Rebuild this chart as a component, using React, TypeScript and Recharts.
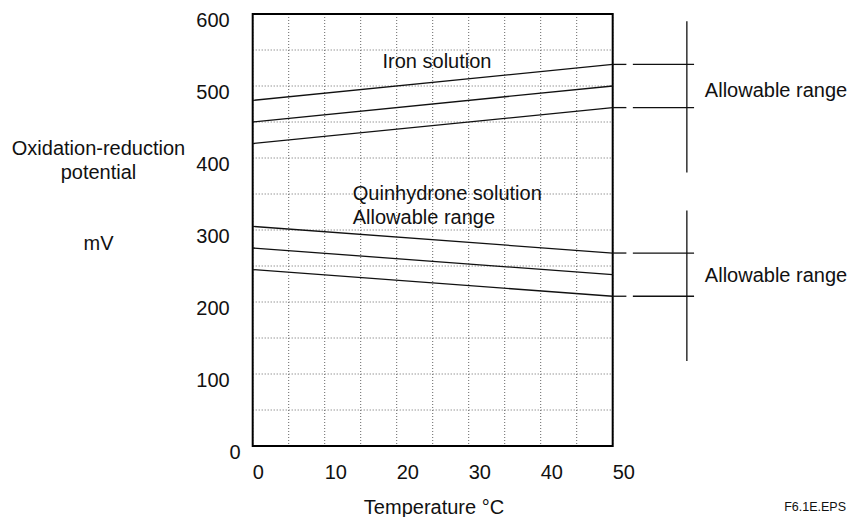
import { LineChart, Line, XAxis, YAxis, CartesianGrid, ReferenceArea, ReferenceLine, ReferenceDot } from 'recharts';

// temperature (°C) and potential (mV)
const temps = [0, 50];
const ironUpper = [480, 530];
const ironMid = [450, 500];
const ironLower = [420, 470];
const quinUpper = [305, 268];
const quinMid = [275, 238];
const quinLower = [245, 208];

const xTicks = [0, 5, 10, 15, 20, 25, 30, 35, 40, 45, 50];
const yTicks = [0, 50, 100, 150, 200, 250, 300, 350, 400, 450, 500, 550, 600];

// annotation positions in data units (leaders / brackets right of the plot)
const leaderShort = [50, 51.9];
const leaderLong = [52.8, 61.3];
const bracketX = 60.3;
const ironBracket = [380, 590];
const quinBracket = [118, 327];

const data = temps.map((t, i) => ({
  t,
  iu: ironUpper[i],
  im: ironMid[i],
  il: ironLower[i],
  qu: quinUpper[i],
  qm: quinMid[i],
  ql: quinLower[i],
}));

const FONT = '"Liberation Sans", Arial, Helvetica, sans-serif';
const INK = '#111';

function XTick({ x, y, payload }: any) {
  if (payload.value % 10 !== 0) return <g />;
  return (
    <text x={x} y={y + 32.5} textAnchor="start" fontSize={20} fill={INK} fontFamily={FONT}>
      {payload.value}
    </text>
  );
}

function YTick({ x, y, payload }: any) {
  if (payload.value % 100 !== 0) return <g />;
  return (
    <text x={x} dx={payload.value === 0 ? 11 : 0} y={y + 12.5} textAnchor="end" fontSize={20} fill={INK} fontFamily={FONT}>
      {payload.value}
    </text>
  );
}

const textShape = (label: string, anchor: 'start' | 'middle') => (p: any) => (
  <text x={p.cx} y={p.cy + 7} textAnchor={anchor} fontSize={20} fill={INK} fontFamily={FONT}>
    {label}
  </text>
);

export default function App() {
  const seriesKeys = ['iu', 'im', 'il', 'qu', 'qm', 'ql'];
  const leaderValues = [ironUpper[1], ironLower[1], quinUpper[1], quinLower[1]];

  return (
    <div style={{ position: 'absolute', left: 0, top: 0, width: 847, height: 517, background: '#fff', fontFamily: FONT, color: INK }}>
      <LineChart width={847} height={517} data={data} margin={{ top: 14, right: 234.3, bottom: 41, left: 192.7 }}>
        <CartesianGrid stroke="#666" strokeDasharray="1 2" strokeWidth={1} />
        <XAxis
          dataKey="t"
          type="number"
          domain={[0, 50]}
          ticks={xTicks}
          interval={0}
          height={30}
          axisLine={false}
          tickLine={false}
          tickSize={0}
          tickMargin={0}
          tick={<XTick />}
        />
        <YAxis
          type="number"
          domain={[0, 600]}
          ticks={yTicks}
          interval={0}
          width={60}
          axisLine={false}
          tickLine={false}
          tickSize={0}
          tickMargin={23}
          tick={<YTick />}
        />
        {seriesKeys.map((k) => (
          <Line key={k} type="linear" dataKey={k} stroke={INK} strokeWidth={1.3} dot={false} activeDot={false} isAnimationActive={false} />
        ))}
        <ReferenceArea x1={0} x2={50} y1={0} y2={600} fill="none" stroke="#000" strokeWidth={2} />
        {leaderValues.map((v) => (
          <ReferenceLine
            key={'s' + v}
            segment={[{ x: leaderShort[0], y: v }, { x: leaderShort[1], y: v }]}
            stroke={INK}
            strokeWidth={1.3}
            ifOverflow="visible"
          />
        ))}
        {leaderValues.map((v) => (
          <ReferenceLine
            key={'l' + v}
            segment={[{ x: leaderLong[0], y: v }, { x: leaderLong[1], y: v }]}
            stroke={INK}
            strokeWidth={1.3}
            ifOverflow="visible"
          />
        ))}
        <ReferenceLine
          segment={[{ x: bracketX, y: ironBracket[0] }, { x: bracketX, y: ironBracket[1] }]}
          stroke={INK}
          strokeWidth={1.3}
          ifOverflow="visible"
        />
        <ReferenceLine
          segment={[{ x: bracketX, y: quinBracket[0] }, { x: bracketX, y: quinBracket[1] }]}
          stroke={INK}
          strokeWidth={1.3}
          ifOverflow="visible"
        />
        <ReferenceDot x={25.6} y={534.7} r={0} ifOverflow="visible" shape={textShape('Iron solution', 'middle')} />
        <ReferenceDot x={13.9} y={351.4} r={0} ifOverflow="visible" shape={textShape('Quinhydrone solution', 'start')} />
        <ReferenceDot x={13.9} y={318} r={0} ifOverflow="visible" shape={textShape('Allowable range', 'start')} />
        <ReferenceDot x={62.8} y={494.4} r={0} ifOverflow="visible" shape={textShape('Allowable range', 'start')} />
        <ReferenceDot x={62.8} y={237.5} r={0} ifOverflow="visible" shape={textShape('Allowable range', 'start')} />
      </LineChart>
      <div style={{ position: 'absolute', left: 0, top: 135.5, width: 197, textAlign: 'center', fontSize: 20, lineHeight: '24px' }}>
        Oxidation-reduction
        <br />
        potential
      </div>
      <div style={{ position: 'absolute', left: 0, top: 231, width: 197, textAlign: 'center', fontSize: 20, lineHeight: '24px' }}>mV</div>
      <div style={{ position: 'absolute', left: 334, top: 495, width: 200, textAlign: 'center', fontSize: 20, lineHeight: '24px' }}>
        Temperature °C
      </div>
      <div style={{ position: 'absolute', right: 1, top: 499, fontSize: 12.5, lineHeight: '16px' }}>F6.1E.EPS</div>
    </div>
  );
}
